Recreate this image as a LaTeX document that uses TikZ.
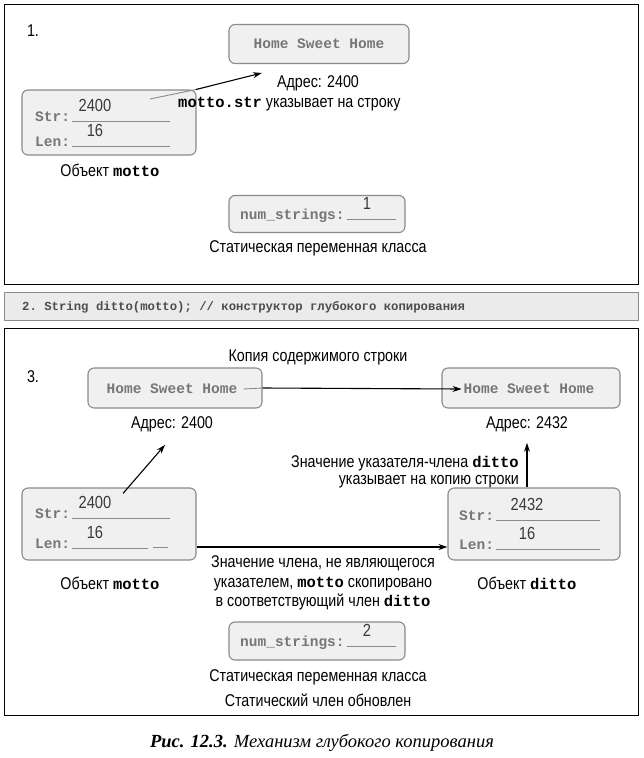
\documentclass[tikz,border=0pt]{standalone}
\usepackage{fontspec}
\setmainfont{Liberation Sans}[FakeStretch=0.84]
\setmonofont{Liberation Mono}
\newfontfamily\capfont{Liberation Serif}
\usetikzlibrary{arrows.meta,calc}

\definecolor{boxfill}{HTML}{F0F0F0}
\definecolor{boxline}{HTML}{8A8A8A}
\definecolor{codegray}{HTML}{767676}
\definecolor{valgray}{HTML}{3A3A3A}
\definecolor{barfill}{HTML}{EBEBEB}

\tikzset{
  membox/.style={draw=boxline, fill=boxfill, rounded corners=6pt, line width=1.1pt, inner sep=0pt},
  panel/.style={draw=black, line width=1.4pt, inner sep=0pt},
  lbl/.style={font=\fontsize{17}{19.5}\selectfont, text=black, inner sep=0pt},
  code/.style={font=\ttfamily\bfseries\fontsize{14.5}{17}\selectfont, text=codegray, inner sep=0pt},
  val/.style={font=\fontsize{17.5}{18}\selectfont, text=valgray, inner sep=0pt},
  uline/.style={draw=boxline, line width=0.8pt},
  inner/.style={draw=boxline, line width=0.9pt},
  ptr/.style={-{Stealth[length=9pt,width=6pt]}, line width=1.1pt},
}

% bold typewriter for identifiers inside labels
\newcommand\kw[1]{{\ttfamily\bfseries\fontsize{15.5}{19.5}\selectfont #1}}

% one field of an object box: name, x, baseline y, label, value x, value, end of underline
\newcommand\memfield[7]{%
  \node[code, anchor=base west] (#1lbl) at (#2,#3) {#4};
  \draw[uline] ([xshift=2pt]#1lbl.base east) -- (#7,#3);
  \node[val, anchor=base] (#1val) at (#5,#3-10) {#6};
}

\begin{document}
\begin{tikzpicture}[x=1pt,y=-1pt]
\useasboundingbox (0,0) rectangle (643,758);

% ---------- step 1 ----------
\node[panel, minimum width=634pt, minimum height=280pt, anchor=north west] (p1) at (4,4) {};
\node[lbl] (n1) at (33,31) {1.};

\node[membox, code, minimum width=180pt, minimum height=39pt] (hsh1) at (319,44) {Home Sweet Home};
\node[lbl] (addr1) at (318,83) {Адрес: 2400};

\node[membox, minimum width=174pt, minimum height=65pt] (motto1) at (109,122.5) {};
\memfield{m1str}{35}{121}{Str:}{95}{2400}{170}
\memfield{m1len}{35}{146}{Len:}{95}{16}{170}
\node[lbl] (obj1) at (110,170) {Объект \kw{motto}};

% pointer stored in motto.str: grey inside the box, black outside
\coordinate (m1tail) at (150,99);
\coordinate (m1exit) at (196,89.5);
\draw[inner] (m1tail) -- (m1exit);
\draw[ptr] (m1exit) -- ([xshift=-15pt,yshift=10pt]addr1.west);
\node[lbl, anchor=west] (ptr1) at (178,104) {\kw{motto.str} указывает на строку};

\node[membox, minimum width=176pt, minimum height=37pt] (ns1) at (317,214) {};
\memfield{ns1f}{240}{219}{num\_strings:}{367}{1}{396}
\node[lbl] (st1) at (318,248) {Статическая переменная класса};

% ---------- step 2 ----------
\node[draw=boxline, fill=barfill, line width=1.4pt, inner sep=0pt,
      minimum width=634pt, minimum height=28pt, anchor=north west] (p2) at (4,292) {};
\node[font=\ttfamily\bfseries\fontsize{12.3}{15}\selectfont, text=black!70, inner sep=0pt, anchor=west] (code2)
  at (22,307) {2. String ditto(motto); // конструктор глубокого копирования};

% ---------- step 3 ----------
\node[panel, minimum width=634pt, minimum height=387pt, anchor=north west] (p3) at (4,328) {};
\node[lbl] (copytitle) at (318,357) {Копия содержимого строки};
\node[lbl] (n3) at (33,377) {3.};

\node[membox, minimum width=174pt, minimum height=40pt] (hsh3a) at (175,388) {};
\node[code] (hsh3atxt) at (172,389) {Home Sweet Home};
\node[membox, minimum width=178pt, minimum height=40pt] (hsh3b) at (531,388) {};
\node[code] (hsh3btxt) at (529,389) {Home Sweet Home};
\draw[inner] ([xshift=6pt]hsh3atxt.east) -- (hsh3a.east);
\draw[ptr] (hsh3a.east) -- ([xshift=-2pt]hsh3btxt.west);

\node[lbl] (addr3a) at (172,424) {Адрес: 2400};
\node[lbl] (addr3b) at (527,424) {Адрес: 2432};

\node[lbl, anchor=east] (dptr1) at (519,463) {Значение указателя-члена \kw{ditto}};
\node[lbl, anchor=east] (dptr2) at (519,482) {указывает на копию строки};

\node[membox, minimum width=174pt, minimum height=72pt] (motto3) at (109,524) {};
\memfield{m3str}{35}{518}{Str:}{95}{2400}{170}
\memfield{m3len}{35}{548}{Len:}{95}{16}{148}

\node[membox, minimum width=172pt, minimum height=72pt] (ditto3) at (534,524) {};
\memfield{d3str}{459}{520}{Str:}{527}{2432}{600}
\memfield{d3len}{459}{549}{Len:}{527}{16}{600}

\draw[ptr] ([xshift=14pt,yshift=-6pt]motto3.north) -- ([xshift=-7pt,yshift=-13pt]addr3a.south);
\draw[ptr] (ditto3.north -| addr3b) -- ([yshift=-11pt]addr3b.south);

% non-pointer member copied across: grey stub inside motto, black arrow outside
\coordinate (m3lentail) at (153,547);
\draw[inner] (m3lentail) -- ++(15,0);
\draw[ptr] (motto3.east |- m3lentail) -- (ditto3.west |- m3lentail);

\node[lbl] (obj3a) at (110,583) {Объект \kw{motto}};
\node[lbl] (obj3b) at (527,583) {Объект \kw{ditto}};
\node[lbl, align=center] (copydesc) at (323,583)
  {Значение члена, не являющегося\\указателем, \kw{motto} скопировано\\в соответствующий член \kw{ditto}};

\node[membox, minimum width=176pt, minimum height=38pt] (ns3) at (317,641) {};
\memfield{ns3f}{240}{646}{num\_strings:}{367}{2}{396}
\node[lbl] (st3a) at (318,677) {Статическая переменная класса};
\node[lbl] (st3b) at (318,700) {Статический член обновлен};

% ---------- caption ----------
\node[inner sep=0pt, font=\capfont\itshape\fontsize{18.5}{22}\selectfont] (caption) at (322,743)
  {\textbf{Рис. 12.3.} Механизм глубокого копирования};
\end{tikzpicture}
\end{document}
